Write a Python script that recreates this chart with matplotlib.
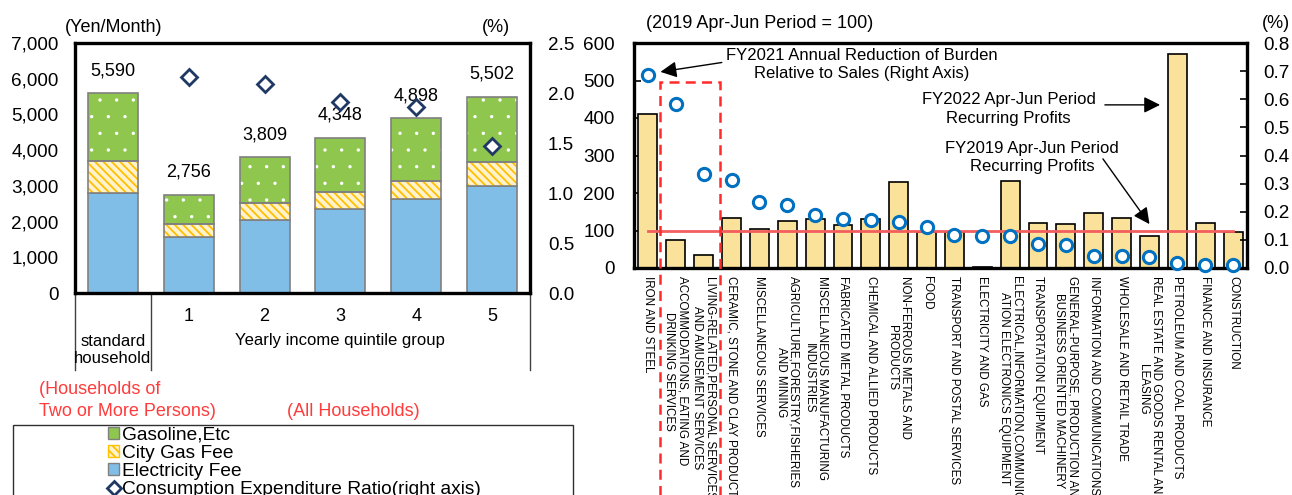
import numpy as np
import matplotlib
matplotlib.use("Agg")
import matplotlib.pyplot as plt
from matplotlib.patches import Rectangle, Patch
from matplotlib.lines import Line2D
from matplotlib.ticker import FuncFormatter, MultipleLocator
import matplotlib.transforms as mtransforms

plt.rcParams["font.family"] = ["Liberation Sans", "DejaVu Sans"]
plt.rcParams["hatch.linewidth"] = 1.3

# ---------------- household energy burden (left panel) ----------------
groups = ["standard\nhousehold", "1", "2", "3", "4", "5"]
electricity = [2810, 1580, 2045, 2340, 2625, 2995]
city_gas = [890, 350, 465, 490, 515, 665]
gasoline = [1890, 826, 1299, 1518, 1758, 1842]
quintiles = [1, 2, 3, 4, 5]
expenditure_ratio = [2.16, 2.09, 1.91, 1.86, 1.47]

# ---------------- corporate burden by industry (right panel) ----------------
industries = [
    "IRON AND STEEL",
    "ACCOMMODATIONS, EATING AND\nDRINKING SERVICES",
    "LIVING-RELATED,PERSONAL SERVICES\nAND AMUSEMENT SERVICES",
    "CERAMIC, STONE AND CLAY PRODUCTS",
    "MISCELLANEOUS SERVICES",
    "AGRICULTURE,FORESTRY,FISHERIES\nAND MINING",
    "MISCELLANEOUS MANUFACTURING\nINDUSTRIES",
    "FABRICATED METAL PRODUCTS",
    "CHEMICAL AND ALLIED PRODUCTS",
    "NON-FERROUS METALS AND\nPRODUCTS",
    "FOOD",
    "TRANSPORT AND POSTAL SERVICES",
    "ELECTRICITY AND GAS",
    "ELECTRICAL,INFORMATION,COMMUNIC\nATION ELECTRONICS EQUIPMENT",
    "TRANSPORTATION EQUIPMENT",
    "GENERAL-PURPOSE, PRODUCTION AND\nBUSINESS ORIENTED MACHINERY",
    "INFORMATION AND COMMUNICATIONS",
    "WHOLESALE AND RETAIL TRADE",
    "REAL ESTATE AND GOODS RENTAL AND\nLEASING",
    "PETROLEUM AND COAL PRODUCTS",
    "FINANCE AND INSURANCE",
    "CONSTRUCTION",
]
profits_fy2022 = [411, 75, 35, 133, 105, 125, 131, 115, 131, 230, 96, 97, 4,
                  233, 120, 118, 146, 134, 86, 572, 119, 95]
burden_ratio = [0.685, 0.584, 0.333, 0.314, 0.235, 0.225, 0.188, 0.174, 0.172,
                0.162, 0.147, 0.119, 0.114, 0.114, 0.085, 0.082, 0.043, 0.041,
                0.040, 0.018, 0.011, 0.009]
baseline_fy2019 = 100

W, H = 1292, 495
fig = plt.figure(figsize=(W / 100, H / 100), dpi=100)


def fig_rect(x0, y0, x1, y1):
    return [x0 / W, 1 - y1 / H, (x1 - x0) / W, (y1 - y0) / H]


C_ELEC = "#80BEE8"
C_GAS_BG = "#FFF2CC"
C_GAS_HATCH = "#FFC000"
C_GASOLINE = "#8FC74E"
C_EDGE = "#808080"
C_NAVY = "#1F3864"
C_RED = "#FF3B3B"


def thin_hatch(bars, lw):
    for b in bars:
        if hasattr(b, "set_hatch_linewidth"):
            b.set_hatch_linewidth(lw)


# ======================= left panel =======================
ax = fig.add_axes(fig_rect(75, 43, 530, 293))
x = np.arange(len(groups))
bw = 0.66
elec = np.array(electricity)
gas = np.array(city_gas)
gsl = np.array(gasoline)

ax.bar(x, elec, bw, color=C_ELEC, edgecolor=C_EDGE, linewidth=1.2, zorder=2)
# hatched city-gas segment: hatch layer then outline layer
ax.bar(x, gas, bw, bottom=elec, color=C_GAS_BG, edgecolor=C_GAS_HATCH,
       hatch="\\\\\\\\", linewidth=0, zorder=2)
ax.bar(x, gas, bw, bottom=elec, fill=False, edgecolor=C_EDGE, linewidth=1.2, zorder=3)
dots = ax.bar(x, gsl, bw, bottom=elec + gas, color=C_GASOLINE, edgecolor="white",
              hatch=".", linewidth=0, zorder=2)
thin_hatch(dots, 0.0)
ax.bar(x, gsl, bw, bottom=elec + gas, fill=False, edgecolor=C_EDGE, linewidth=1.2, zorder=3)

totals = elec + gas + gsl
for xi_, t in zip(x, totals):
    ax.annotate(f"{t:,}", (xi_, t), xytext=(0, 16), textcoords="offset points",
                ha="center", va="center", fontsize=13)

ax.set_xlim(-0.5, 5.5)
ax.set_ylim(0, 7000)
ax.yaxis.set_major_locator(MultipleLocator(1000))
ax.yaxis.set_major_formatter(FuncFormatter(lambda v, p: f"{int(v):,}"))
ax.tick_params(axis="y", length=0, pad=12, labelsize=13.6)
ax.set_xticks(quintiles)
ax.set_xticklabels([groups[q] for q in quintiles])
ax.tick_params(axis="x", length=0, pad=11, labelsize=13)
for s in ax.spines.values():
    s.set_linewidth(2.4)

ax2 = ax.twinx()
ax2.plot(quintiles, expenditure_ratio, linestyle="none", marker="D",
         markersize=8.3, markerfacecolor="white", markeredgecolor=C_NAVY,
         markeredgewidth=2, zorder=5)
ax2.set_ylim(0, 2.5)
ax2.yaxis.set_major_locator(MultipleLocator(0.5))
ax2.yaxis.set_major_formatter(FuncFormatter(lambda v, p: f"{v:.1f}"))
ax2.tick_params(axis="y", length=0, pad=13, labelsize=13.6)
for s in ax2.spines.values():
    s.set_visible(False)

# category separators below the left panel
sep = mtransforms.blended_transform_factory(ax.transAxes, ax.transAxes)
for xa in (0, 1 / 6, 1):
    ax.plot([xa, xa], [0, -0.308], color="#404040", linewidth=1.0,
            transform=sep, clip_on=False)
tr_lab = mtransforms.blended_transform_factory(ax.transData, ax.transAxes)
ax.text(0, -0.228, groups[0], transform=tr_lab, ha="center", va="center",
        fontsize=12, linespacing=1.15)
ax.text(3, -0.192, "Yearly income quintile group", transform=tr_lab,
        ha="center", va="center", fontsize=12)

fig.text(65 / W, 1 - 27 / H, "(Yen/Month)", ha="left", va="center", fontsize=13)
fig.text(496 / W, 1 - 27 / H, "(%)", ha="center", va="center", fontsize=13)

fig.text(39 / W, 1 - 389 / H, "(Households of", ha="left", va="center",
         fontsize=13, color=C_RED)
fig.text(39 / W, 1 - 411 / H, "Two or More Persons)", ha="left", va="center",
         fontsize=13, color=C_RED)
fig.text(287 / W, 1 - 411 / H, "(All Households)", ha="left", va="center",
         fontsize=13, color=C_RED)

# legend box
fig.add_artist(Rectangle((12.6 / W, -0.05), (573 - 12.6) / W, 0.05 + 1 - 425 / H,
                         transform=fig.transFigure, fill=False,
                         edgecolor="#303030", linewidth=1.0))
handles = [
    Patch(facecolor=C_GASOLINE, edgecolor=C_EDGE, linewidth=1.0),
    Patch(facecolor=C_GAS_BG, edgecolor=C_GAS_HATCH, hatch="\\\\\\\\", linewidth=1.0),
    Patch(facecolor=C_ELEC, edgecolor=C_EDGE, linewidth=1.0),
    Line2D([], [], linestyle="none", marker="D", markersize=7.5,
           markerfacecolor="white", markeredgecolor=C_NAVY, markeredgewidth=2),
]
labels = ["Gasoline,Etc", "City Gas Fee", "Electricity Fee",
          "Consumption Expenditure Ratio(right axis)"]
fig.legend(handles, labels, loc="upper left", bbox_to_anchor=(108 / W, 1 - 426.5 / H),
           frameon=False, fontsize=13.8, handlelength=0.6, handleheight=0.6,
           handletextpad=0.15, labelspacing=0.06, borderpad=0, borderaxespad=0)

# ======================= right panel =======================
ax3 = fig.add_axes(fig_rect(634, 43, 1247, 268))
xi = np.arange(len(industries))
ax3.bar(xi, profits_fy2022, 0.68, color="#FAE29A", edgecolor="black",
        linewidth=1.2, zorder=2)
ax3.plot([xi[0], xi[-1]], [baseline_fy2019, baseline_fy2019], color="#F25E5E",
         linewidth=2, zorder=3)
ax3.set_xlim(-0.5, len(industries) - 0.5)
ax3.set_ylim(0, 600)
ax3.yaxis.set_major_locator(MultipleLocator(100))
ax3.tick_params(axis="y", direction="in", length=5, width=1.2, pad=14, labelsize=13.6)
ax3.set_xticks(xi)
ax3.set_xticklabels(industries, rotation=270, ha="center", va="top",
                    fontsize=8.4, linespacing=1.1)
ax3.tick_params(axis="x", length=0, pad=6)
for s in ax3.spines.values():
    s.set_linewidth(2.4)

ax4 = ax3.twinx()
ax4.plot(xi, burden_ratio, linestyle="none", marker="o", markersize=8.8,
         markerfacecolor="white", markeredgecolor="#0070C0",
         markeredgewidth=2.2, zorder=5, clip_on=False)
ax4.set_ylim(0, 0.8)
ax4.yaxis.set_major_locator(MultipleLocator(0.1))
ax4.yaxis.set_major_formatter(FuncFormatter(lambda v, p: f"{v:.1f}"))
ax4.tick_params(axis="y", direction="in", length=5, width=1.2, pad=12, labelsize=13.6)
for s in ax4.spines.values():
    s.set_visible(False)

# dashed highlight around the service industries
ax3.add_patch(Rectangle((0.45, -640), 2.12, 640 + 495, fill=False,
                        edgecolor="#FF2A2A", linewidth=1.8, linestyle=(0, (4, 2.5)),
                        clip_on=False, zorder=6))

arrow_kw = dict(arrowstyle="-|>,head_length=0.7,head_width=0.35", color="black",
                linewidth=1.0, mutation_scale=14, shrinkA=0, shrinkB=0)
ax3.text(7.68, 543, "FY2021 Annual Reduction of Burden\nRelative to Sales (Right Axis)",
         ha="center", va="center", fontsize=12, linespacing=1.3)
ax3.annotate("", xy=(0.45, 523), xytext=(2.65, 548), arrowprops=arrow_kw)

ax3.text(12.94, 424, "FY2022 Apr-Jun Period\nRecurring Profits",
         ha="center", va="center", fontsize=12, linespacing=1.3)
ax3.annotate("", xy=(18.38, 435), xytext=(16.4, 435), arrowprops=arrow_kw)

ax3.text(13.78, 295, "FY2019 Apr-Jun Period\nRecurring Profits",
         ha="center", va="center", fontsize=12, linespacing=1.3)
ax3.annotate("", xy=(18.0, 117), xytext=(16.33, 291), arrowprops=arrow_kw)

fig.text(646 / W, 1 - 24 / H, "(2019 Apr-Jun Period = 100)", ha="left",
         va="center", fontsize=13)
fig.text(1276 / W, 1 - 24 / H, "(%)", ha="center", va="center", fontsize=13)

fig.savefig("out.png", dpi=100)
